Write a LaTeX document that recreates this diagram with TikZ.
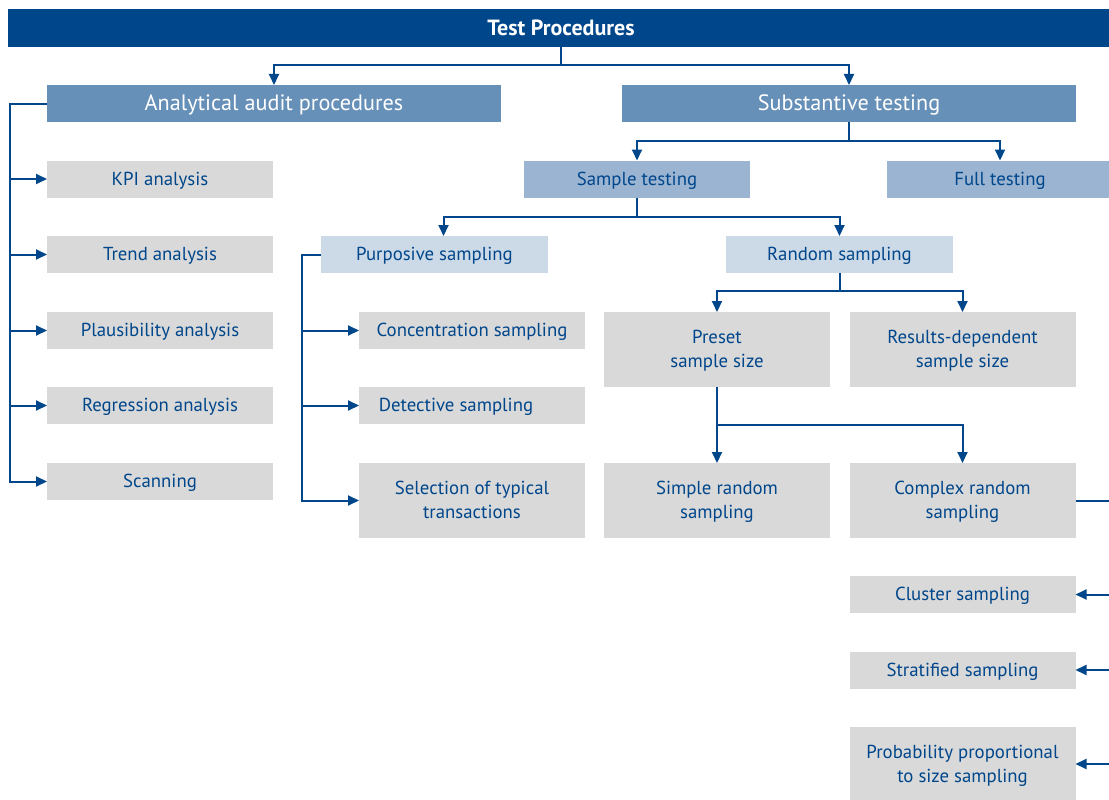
\documentclass[tikz,border=0pt]{standalone}
\usepackage{fontspec}
\setmainfont{PT Sans}
\usetikzlibrary{arrows.meta}
\definecolor{navy}{HTML}{00468B}
\definecolor{midblue}{HTML}{6790B9}
\definecolor{lightblue}{HTML}{9AB4D1}
\definecolor{paleblue}{HTML}{CCD9E7}
\definecolor{boxgray}{HTML}{D9D9D9}
\begin{document}
\begin{tikzpicture}[x=1pt,y=-1pt,
  base/.style={inner sep=0pt, outer sep=0pt, align=center, text=navy, text depth=1pt, font=\fontsize{18.8}{24}\selectfont},
  gbox/.style={base, fill=boxgray, minimum width=226, minimum height=37},
  tallbox/.style={gbox, minimum height=75},
  topbox/.style={base, fill=navy, text=white, minimum height=38, font=\fontsize{22}{24}\selectfont\bfseries},
  bigbox/.style={base, fill=midblue, text=white, minimum width=454, minimum height=37, font=\fontsize{22.2}{24}\selectfont},
  lbbox/.style={gbox, fill=lightblue},
  pbbox/.style={gbox, fill=paleblue, minimum width=227},
  conn/.style={draw=navy, line width=2pt},
  carr/.style={conn, -{Triangle[length=11pt,width=10pt]}},
]
\useasboundingbox (0,0) rectangle (1109,800);
% nodes
\node[topbox, minimum width=1106] (title) at (561,28) {Test Procedures};
\node[bigbox] (ana) at (274,103.5) {Analytical audit procedures};
\node[bigbox] (sub) at (849,103.5) {Substantive testing};
\node[gbox] (kpi) at (160,179) {KPI analysis};
\node[gbox] (trend) at (160,254.5) {Trend analysis};
\node[gbox] (plaus) at (160,330.5) {Plausibility analysis};
\node[gbox] (regr) at (160,405.5) {Regression analysis};
\node[gbox] (scan) at (160,481.5) {Scanning};
\node[lbbox] (samp) at (637,179) {Sample testing};
\node[lbbox] (full) at (1000,179) {Full testing};
\node[pbbox] (purp) at (434.5,254.5) {Purposive sampling};
\node[pbbox] (rand) at (839.5,254.5) {Random sampling};
\node[gbox] (conc) at (472,330.5) {Concentration sampling};
\node[gbox] (det) at (472,405.5) {Detective sampling\hspace*{32pt}};
\node[tallbox] (sel) at (472,500.5) {Selection of typical\\transactions};
\node[tallbox] (preset) at (717,349.5) {Preset\\sample size};
\node[tallbox] (res) at (962.5,349.5) {Results-dependent\\sample size};
\node[tallbox] (simple) at (717,500.5) {Simple random\\sampling};
\node[tallbox] (complex) at (962.5,500.5) {Complex random\\sampling};
\node[gbox] (cluster) at (962.5,594.5) {Cluster sampling};
\node[gbox] (strat) at (962.5,670) {Stratified sampling};
\node[tallbox, minimum height=74] (prob) at (962.5,764) {Probability proportional\\to size sampling};
% helper coordinates
\coordinate (lb) at (10,0);
\coordinate (pb) at (302,0);
\coordinate (rb) at (1112,0);
% connectors
\draw[carr] (title.south) -- ++(0,18) -| (ana.north);
\draw[carr] (title.south) -- ++(0,18) -| (sub.north);
\draw[carr] (ana.west) -| (lb |- scan.west) -- (scan.west);
\foreach \n in {kpi,trend,plaus,regr} \draw[carr] (lb |- \n.west) -- (\n.west);
\draw[carr] (sub.south) -- ++(0,19) -| (samp.north);
\draw[carr] (sub.south) -- ++(0,19) -| (full.north);
\draw[carr] (samp.south) -- ++(0,19) -| ([xshift=9pt]purp.north);
\draw[carr] (samp.south) -- ++(0,19) -| (rand.north);
\draw[carr] (purp.west) -| (pb |- sel.west) -- (sel.west);
\foreach \n in {conc,det} \draw[carr] (pb |- \n.west) -- (\n.west);
\draw[carr] (rand.south) -- ++(0,18) -| (preset.north);
\draw[carr] (rand.south) -- ++(0,18) -| (res.north);
\draw[carr] (preset.south) -- (simple.north);
\draw[carr] (preset.south) -- ++(0,38) -| (complex.north);
\draw[conn] (complex.east) -- (rb |- complex.east) -- (rb |- prob.east);
\foreach \n in {cluster,strat,prob} \draw[carr] (rb |- \n.east) -- (\n.east);
\end{tikzpicture}
\end{document}
